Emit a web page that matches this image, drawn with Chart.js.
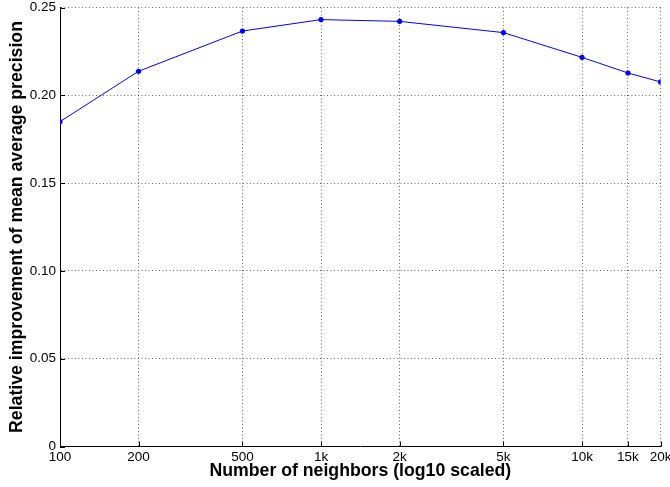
<!DOCTYPE html>
<html>
<head>
<meta charset="utf-8">
<script src="https://cdn.jsdelivr.net/npm/chart.js@4/dist/chart.umd.min.js"></script>
<style>
  html, body { margin: 0; padding: 0; background: #fff; }
  #wrap { width: 670px; height: 487px; position: relative; }
</style>
</head>
<body>
<div id="wrap"><canvas id="c"></canvas></div>
<script>
// ---- data ----
const neighbors = [100, 200, 500, 1000, 2000, 5000, 10000, 15000, 20000];
const xTickLabels = ['100', '200', '500', '1k', '2k', '5k', '10k', '15k', '20k'];
const improvement = [0.185, 0.2137, 0.2366, 0.2431, 0.2421, 0.2357, 0.2216, 0.2127, 0.2076];
const yTickValues = [0, 0.05, 0.10, 0.15, 0.20, 0.25];
const yTickLabels = ['0', '0.05', '0.10', '0.15', '0.20', '0.25'];

const FONT = '"Liberation Sans", Arial, Helvetica, sans-serif';

const innerTicks = {
  id: 'innerTicks',
  afterDatasetsDraw(chart) {
    const ctx = chart.ctx;
    const xs = chart.scales.x, ys = chart.scales.y;
    const a = chart.chartArea;
    ctx.save();
    ctx.strokeStyle = '#000';
    ctx.lineWidth = 1;
    ctx.beginPath();
    xs.ticks.forEach(t => {
      const px = Math.round(xs.getPixelForValue(t.value)) + 0.5;
      ctx.moveTo(px, a.bottom);
      ctx.lineTo(px, a.bottom - 5);
    });
    ys.ticks.forEach(t => {
      const py = Math.round(ys.getPixelForValue(t.value)) + 0.5;
      ctx.moveTo(a.left, py);
      ctx.lineTo(a.left + 5, py);
    });
    ctx.stroke();
    ctx.restore();
  }
};

new Chart(document.getElementById('c'), {
  type: 'scatter',
  data: {
    datasets: [{
      data: neighbors.map((n, i) => ({ x: n, y: improvement[i] })),
      showLine: true,
      borderColor: 'rgb(0,0,255)',
      backgroundColor: 'rgb(0,0,255)',
      borderWidth: 1,
      pointRadius: 2.6,
      pointHoverRadius: 2.6,
      pointBorderWidth: 0,
      tension: 0
    }]
  },
  options: {
    responsive: true,
    maintainAspectRatio: false,
    animation: false,
    events: [],
    layout: { padding: { left: 0, top: 7.5, right: 9.4, bottom: 0 } },
    plugins: { legend: { display: false }, tooltip: { enabled: false } },
    scales: {
      x: {
        type: 'logarithmic',
        min: 100,
        max: 20000,
        afterBuildTicks: s => { s.ticks = neighbors.map(v => ({ value: v })); },
        afterFit: s => { s.height = 40.5; s.paddingLeft = 0; s.paddingRight = 0; },
        ticks: {
          autoSkip: false,
          maxRotation: 0,
          minRotation: 0,
          padding: 3,
          color: '#000',
          font: { family: FONT, size: 13.5 },
          callback: (v) => { const i = neighbors.indexOf(v); return i >= 0 ? xTickLabels[i] : ''; }
        },
        grid: {
          drawTicks: false,
          color: 'rgba(0,0,0,0.6)',
          lineWidth: 1
        },
        border: { display: true, color: '#000', width: 1, dash: [1, 2.5] },
        title: {
          display: true,
          text: 'Number of neighbors (log10 scaled)',
          color: '#000',
          font: { family: FONT, size: 17.7, weight: 'bold' },
          padding: { top: 0, bottom: 5.5 }
        }
      },
      y: {
        type: 'linear',
        min: 0,
        max: 0.25,
        afterBuildTicks: s => { s.ticks = yTickValues.map(v => ({ value: v })); },
        afterFit: s => { s.width = 60; s.paddingTop = 0; s.paddingBottom = 0; },
        ticks: {
          padding: 4,
          color: '#000',
          font: { family: FONT, size: 13.5 },
          callback: (v) => { const i = yTickValues.findIndex(t => Math.abs(t - v) < 1e-9); return i >= 0 ? yTickLabels[i] : ''; }
        },
        grid: {
          drawTicks: false,
          color: 'rgba(0,0,0,0.6)',
          lineWidth: 1
        },
        border: { display: true, color: '#000', width: 1, dash: [1, 2.5] },
        title: {
          display: true,
          text: 'Relative improvement of mean average precision',
          color: '#000',
          font: { family: FONT, size: 17.7, weight: 'bold' },
          padding: { top: 6.5, bottom: 0 }
        }
      }
    }
  },
  plugins: [innerTicks]
});
</script>
</body>
</html>
